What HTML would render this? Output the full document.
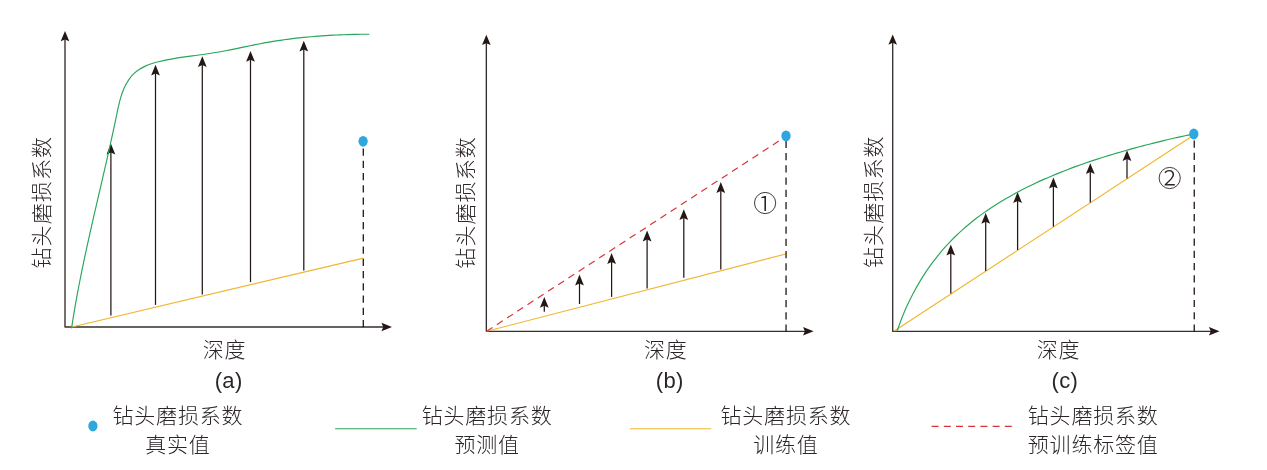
<!DOCTYPE html>
<html lang="zh-CN">
<head>
<meta charset="utf-8">
<title>钻头磨损系数</title>
<style>
html,body{margin:0;padding:0;background:#fff;}
body{width:1267px;height:470px;overflow:hidden;}
svg{display:block;}
.cjk{font-family:"Liberation Sans","Noto Sans CJK SC",sans-serif;font-weight:300;font-size:21px;letter-spacing:0.8px;fill:#2b2625;}
.lat{font-family:"Liberation Sans","Noto Sans CJK SC",sans-serif;fill:#2b2625;}
.circ{font-family:"Liberation Sans","Noto Sans CJK SC",sans-serif;font-weight:300;font-size:28.8px;fill:#2b2625;}
.vl{letter-spacing:1.1px;}
.cap{font-size:22px;letter-spacing:0.4px;}
</style>
</head>
<body>
<svg width="1267" height="470" viewBox="0 0 1267 470">
<rect x="0" y="0" width="1267" height="470" fill="#ffffff"/>
<g id="panel-a">
<path d="M65,38.9 L65,327 L384.1,327" fill="none" stroke="#352f2d" stroke-width="1.35" stroke-linejoin="round"/><path d="M65,31 L69.3,41.3 L65,39.4 L60.7,41.3 Z" fill="#231815"/><path d="M392,327 L381.4,322.7 L383.3,327 L381.4,331.3 Z" fill="#231815"/>
<line x1="70.8" y1="327.2" x2="363.4" y2="258.1" stroke="#f0b62e" stroke-width="1.15"/>
<line x1="110.9" y1="315.4" x2="110.9" y2="151.9" stroke="#231815" stroke-width="1.25"/><path d="M110.9,143.6 L115.3,154.4 L110.9,152.4 L106.5,154.4 Z" fill="#231815"/>
<line x1="155.5" y1="304.9" x2="155.5" y2="73.1" stroke="#231815" stroke-width="1.25"/><path d="M155.5,64.8 L159.9,75.6 L155.5,73.6 L151.1,75.6 Z" fill="#231815"/>
<line x1="202.3" y1="294.5" x2="202.3" y2="64.5" stroke="#231815" stroke-width="1.25"/><path d="M202.3,56.2 L206.7,67 L202.3,65 L197.9,67 Z" fill="#231815"/>
<line x1="250.5" y1="282.1" x2="250.5" y2="59.2" stroke="#231815" stroke-width="1.25"/><path d="M250.5,50.9 L254.9,61.7 L250.5,59.7 L246.1,61.7 Z" fill="#231815"/>
<line x1="303.8" y1="270.4" x2="303.8" y2="49.1" stroke="#231815" stroke-width="1.25"/><path d="M303.8,40.8 L308.2,51.6 L303.8,49.6 L299.4,51.6 Z" fill="#231815"/>
<path d="M71.53,328.43 C71.72,327.21 72.27,323.57 72.66,321.14 C73.04,318.71 73.43,316.29 73.84,313.87 C74.24,311.46 74.65,309.04 75.07,306.63 C75.49,304.22 75.92,301.81 76.35,299.4 C76.78,297 77.23,294.6 77.68,292.2 C78.12,289.8 78.58,287.4 79.04,285.01 C79.5,282.61 79.97,280.22 80.45,277.83 C80.92,275.44 81.41,273.06 81.89,270.67 C82.38,268.29 82.87,265.9 83.37,263.52 C83.87,261.14 84.37,258.76 84.87,256.39 C85.38,254.01 85.89,251.63 86.41,249.26 C86.92,246.88 87.44,244.51 87.97,242.14 C88.49,239.76 89.02,237.39 89.55,235.02 C90.08,232.65 90.61,230.28 91.15,227.91 C91.68,225.54 92.22,223.17 92.76,220.81 C93.3,218.44 93.85,216.07 94.39,213.7 C94.94,211.33 95.48,208.97 96.03,206.6 C96.58,204.23 97.13,201.86 97.68,199.49 C98.22,197.12 98.77,194.75 99.32,192.38 C99.88,190.01 100.43,187.64 100.98,185.27 C101.53,182.9 102.08,180.53 102.63,178.15 C103.17,175.78 103.72,173.4 104.27,171.03 C104.82,168.65 105.36,166.27 105.91,163.89 C106.45,161.51 107,159.13 107.54,156.75 C108.08,154.37 108.62,151.98 109.15,149.59 C109.69,147.21 110.22,144.82 110.75,142.42 C111.28,140.03 111.81,137.64 112.33,135.24 C112.85,132.84 113.37,130.44 113.89,128.04 C114.4,125.64 114.91,123.23 115.42,120.82 C115.93,118.41 116.42,116 116.92,113.59 C117.43,111.17 117.91,108.75 118.47,106.36 C119.02,103.96 119.58,101.57 120.25,99.21 C120.92,96.86 121.63,94.52 122.48,92.24 C123.33,89.96 124.27,87.68 125.37,85.53 C126.46,83.37 127.68,81.24 129.05,79.3 C130.43,77.36 131.94,75.52 133.61,73.89 C135.28,72.26 137.13,70.82 139.08,69.52 C141.03,68.23 143.14,67.12 145.31,66.12 C147.48,65.11 149.78,64.26 152.1,63.49 C154.43,62.72 156.85,62.07 159.26,61.47 C161.68,60.87 164.15,60.37 166.59,59.88 C169.03,59.4 171.48,58.98 173.91,58.57 C176.35,58.16 178.77,57.79 181.2,57.43 C183.62,57.08 186.03,56.75 188.44,56.42 C190.85,56.09 193.25,55.78 195.66,55.46 C198.06,55.14 200.45,54.83 202.85,54.5 C205.24,54.16 207.64,53.83 210.03,53.46 C212.42,53.1 214.81,52.71 217.2,52.3 C219.59,51.89 221.98,51.45 224.37,51 C226.76,50.55 229.15,50.07 231.55,49.59 C233.94,49.11 236.33,48.61 238.72,48.12 C241.11,47.62 243.51,47.11 245.9,46.62 C248.3,46.12 250.69,45.62 253.09,45.13 C255.49,44.65 257.89,44.17 260.29,43.71 C262.69,43.25 265.09,42.8 267.49,42.38 C269.9,41.96 272.31,41.55 274.71,41.17 C277.12,40.78 279.53,40.42 281.95,40.07 C284.36,39.72 286.77,39.39 289.19,39.08 C291.6,38.76 294.02,38.47 296.44,38.19 C298.86,37.91 301.28,37.65 303.7,37.4 C306.13,37.16 308.55,36.93 310.97,36.72 C313.4,36.5 315.83,36.3 318.25,36.12 C320.68,35.94 323.11,35.77 325.54,35.61 C327.97,35.46 330.41,35.32 332.84,35.19 C335.27,35.06 337.71,34.95 340.14,34.85 C342.58,34.75 345.01,34.66 347.45,34.59 C349.89,34.51 352.33,34.45 354.77,34.39 C357.21,34.34 359.65,34.3 362.09,34.27 C364.53,34.24 368.19,34.23 369.41,34.22" fill="none" stroke="#27a65a" stroke-width="1.15"/>
<line x1="363.3" y1="327.3" x2="363.3" y2="146" stroke="#231815" stroke-width="1.3" stroke-dasharray="7.2 5.06"/>
<ellipse cx="363.1" cy="141.3" rx="4.65" ry="5.4" fill="#2ea7e0"/>
</g>
<g id="panel-b">
<path d="M486.35,42.7 L486.35,331.3 L805.7,331.3" fill="none" stroke="#352f2d" stroke-width="1.35" stroke-linejoin="round"/><path d="M486.35,34.8 L490.65,45.1 L486.35,43.2 L482.05,45.1 Z" fill="#231815"/><path d="M813.6,331.3 L803,327 L804.9,331.3 L803,335.6 Z" fill="#231815"/>
<line x1="486.6" y1="331.3" x2="785.8" y2="254" stroke="#f0b62e" stroke-width="1.15"/>
<line x1="486.6" y1="331.3" x2="785.8" y2="136.5" stroke="#d8343b" stroke-width="1.2" stroke-dasharray="7 5.2"/>
<line x1="544.3" y1="311.7" x2="544.3" y2="305.3" stroke="#231815" stroke-width="1.25"/><path d="M544.3,297 L548.7,307.8 L544.3,305.8 L539.9,307.8 Z" fill="#231815"/>
<line x1="579.5" y1="304" x2="579.5" y2="282.9" stroke="#231815" stroke-width="1.25"/><path d="M579.5,274.6 L583.9,285.4 L579.5,283.4 L575.1,285.4 Z" fill="#231815"/>
<line x1="611.6" y1="296.9" x2="611.6" y2="261.4" stroke="#231815" stroke-width="1.25"/><path d="M611.6,253.1 L616,263.9 L611.6,261.9 L607.2,263.9 Z" fill="#231815"/>
<line x1="647.1" y1="288.4" x2="647.1" y2="238.9" stroke="#231815" stroke-width="1.25"/><path d="M647.1,230.6 L651.5,241.4 L647.1,239.4 L642.7,241.4 Z" fill="#231815"/>
<line x1="683.8" y1="277.8" x2="683.8" y2="217.5" stroke="#231815" stroke-width="1.25"/><path d="M683.8,209.2 L688.2,220 L683.8,218 L679.4,220 Z" fill="#231815"/>
<line x1="720.8" y1="269.6" x2="720.8" y2="190.4" stroke="#231815" stroke-width="1.25"/><path d="M720.8,182.1 L725.2,192.9 L720.8,190.9 L716.4,192.9 Z" fill="#231815"/>
<line x1="786.05" y1="331.8" x2="786.05" y2="141" stroke="#231815" stroke-width="1.3" stroke-dasharray="7.2 5.06"/>
<ellipse cx="786" cy="135.9" rx="4.65" ry="5.4" fill="#2ea7e0"/>
<circle cx="765.1" cy="203" r="10.6" fill="none" stroke="#2b2625" stroke-width="0.9"/>
<clipPath id="k1"><circle cx="765.1" cy="203" r="9.4"/></clipPath>
<text x="764.7" y="215.0" text-anchor="middle" class="circ" clip-path="url(#k1)">①</text>
</g>
<g id="panel-c">
<path d="M892.7,42.3 L892.7,331.3 L1211.6,331.3" fill="none" stroke="#352f2d" stroke-width="1.35" stroke-linejoin="round"/><path d="M892.7,34.4 L897,44.7 L892.7,42.8 L888.4,44.7 Z" fill="#231815"/><path d="M1219.5,331.3 L1208.9,327 L1210.8,331.3 L1208.9,335.6 Z" fill="#231815"/>
<line x1="894.3" y1="331" x2="1193.9" y2="135" stroke="#f0b62e" stroke-width="1.15"/>
<line x1="950.8" y1="293.6" x2="950.8" y2="252.9" stroke="#231815" stroke-width="1.25"/><path d="M950.8,244.6 L955.2,255.4 L950.8,253.4 L946.4,255.4 Z" fill="#231815"/>
<line x1="985.7" y1="270.9" x2="985.7" y2="221.3" stroke="#231815" stroke-width="1.25"/><path d="M985.7,213 L990.1,223.8 L985.7,221.8 L981.3,223.8 Z" fill="#231815"/>
<line x1="1017.6" y1="250" x2="1017.6" y2="200.4" stroke="#231815" stroke-width="1.25"/><path d="M1017.6,192.1 L1022,202.9 L1017.6,200.9 L1013.2,202.9 Z" fill="#231815"/>
<line x1="1053.4" y1="226.6" x2="1053.4" y2="185.9" stroke="#231815" stroke-width="1.25"/><path d="M1053.4,177.6 L1057.8,188.4 L1053.4,186.4 L1049,188.4 Z" fill="#231815"/>
<line x1="1090.3" y1="202.5" x2="1090.3" y2="171.6" stroke="#231815" stroke-width="1.25"/><path d="M1090.3,163.3 L1094.7,174.1 L1090.3,172.1 L1085.9,174.1 Z" fill="#231815"/>
<line x1="1127" y1="178.6" x2="1127" y2="158.6" stroke="#231815" stroke-width="1.25"/><path d="M1127,150.3 L1131.4,161.1 L1127,159.1 L1122.6,161.1 Z" fill="#231815"/>
<path d="M897.27,330.64 C897.76,329.27 899.16,325.15 900.18,322.43 C901.19,319.71 902.26,317 903.37,314.31 C904.48,311.63 905.63,308.96 906.84,306.31 C908.04,303.66 909.29,301.03 910.59,298.43 C911.89,295.83 913.23,293.24 914.62,290.69 C916,288.13 917.44,285.6 918.91,283.1 C920.39,280.6 921.91,278.12 923.48,275.68 C925.05,273.24 926.66,270.82 928.31,268.44 C929.97,266.06 931.67,263.71 933.41,261.4 C935.15,259.09 936.94,256.81 938.76,254.57 C940.59,252.33 942.46,250.12 944.37,247.96 C946.29,245.8 948.24,243.67 950.24,241.59 C952.23,239.51 954.27,237.47 956.34,235.47 C958.42,233.47 960.54,231.51 962.69,229.59 C964.84,227.67 967.03,225.79 969.26,223.96 C971.48,222.12 973.74,220.32 976.03,218.56 C978.32,216.8 980.64,215.08 983,213.39 C985.35,211.71 987.73,210.06 990.14,208.45 C992.55,206.84 994.98,205.26 997.44,203.72 C999.9,202.18 1002.39,200.67 1004.89,199.2 C1007.4,197.73 1009.93,196.29 1012.47,194.88 C1015.02,193.47 1017.58,192.09 1020.16,190.74 C1022.74,189.39 1025.34,188.08 1027.95,186.79 C1030.56,185.5 1033.19,184.24 1035.82,183.01 C1038.46,181.77 1041.1,180.57 1043.76,179.39 C1046.41,178.21 1049.08,177.05 1051.76,175.92 C1054.43,174.79 1057.12,173.69 1059.82,172.61 C1062.51,171.52 1065.22,170.47 1067.93,169.43 C1070.64,168.39 1073.36,167.38 1076.09,166.39 C1078.82,165.39 1081.56,164.42 1084.3,163.47 C1087.04,162.51 1089.79,161.58 1092.55,160.66 C1095.31,159.75 1098.07,158.85 1100.84,157.97 C1103.61,157.09 1106.39,156.23 1109.17,155.38 C1111.95,154.53 1114.73,153.7 1117.52,152.88 C1120.31,152.07 1123.11,151.26 1125.9,150.47 C1128.7,149.68 1131.5,148.91 1134.31,148.14 C1137.11,147.38 1139.92,146.63 1142.73,145.89 C1145.54,145.15 1148.36,144.41 1151.17,143.69 C1153.99,142.98 1156.81,142.27 1159.63,141.57 C1162.45,140.88 1165.27,140.2 1168.1,139.53 C1170.92,138.87 1173.75,138.22 1176.58,137.58 C1179.41,136.95 1182.25,136.33 1185.09,135.74 C1187.93,135.14 1192.19,134.3 1193.61,134.01" fill="none" stroke="#27a65a" stroke-width="1.15"/>
<line x1="1194.25" y1="331.6" x2="1194.25" y2="139" stroke="#231815" stroke-width="1.3" stroke-dasharray="7.2 5.06"/>
<ellipse cx="1193.8" cy="134" rx="4.65" ry="5.4" fill="#2ea7e0"/>
<circle cx="1169.7" cy="178" r="10.6" fill="none" stroke="#2b2625" stroke-width="0.9"/>
<clipPath id="k2"><circle cx="1169.7" cy="178" r="9.4"/></clipPath>
<text x="1169.5" y="189.0" text-anchor="middle" class="circ" clip-path="url(#k2)">②</text>
</g>
<g id="labels">
<text transform="translate(42,202.2) rotate(-90)" text-anchor="middle" class="cjk vl" y="7">钻头磨损系数</text>
<text transform="translate(465.8,202.4) rotate(-90)" text-anchor="middle" class="cjk vl" y="7">钻头磨损系数</text>
<text transform="translate(873.9,201.7) rotate(-90)" text-anchor="middle" class="cjk vl" y="7">钻头磨损系数</text>
<text x="224.6" y="356.8" text-anchor="middle" class="cjk">深度</text>
<text x="665.8" y="356.8" text-anchor="middle" class="cjk">深度</text>
<text x="1058.6" y="356.8" text-anchor="middle" class="cjk">深度</text>
<text x="228.7" y="388.3" text-anchor="middle" class="lat cap">(a)</text>
<text x="669.8" y="388.3" text-anchor="middle" class="lat cap">(b)</text>
<text x="1064.9" y="388.3" text-anchor="middle" class="lat cap">(c)</text>
</g>
<g id="legend">
<ellipse cx="92.9" cy="426" rx="4.65" ry="5.4" fill="#2ea7e0"/>
<line x1="335.2" y1="428.7" x2="416.7" y2="428.7" stroke="#27a65a" stroke-width="1.15"/>
<line x1="629.8" y1="428.7" x2="711.3" y2="428.7" stroke="#f0b62e" stroke-width="1.15"/>
<line x1="931.6" y1="426.3" x2="1012.6" y2="426.3" stroke="#d8343b" stroke-width="1.2" stroke-dasharray="7 5.2"/>
<text x="177.9" y="422.8" text-anchor="middle" class="cjk">钻头磨损系数</text>
<text x="177.9" y="451.6" text-anchor="middle" class="cjk">真实值</text>
<text x="487.1" y="422.8" text-anchor="middle" class="cjk">钻头磨损系数</text>
<text x="487.1" y="451.6" text-anchor="middle" class="cjk">预测值</text>
<text x="785.9" y="422.8" text-anchor="middle" class="cjk">钻头磨损系数</text>
<text x="785.9" y="451.6" text-anchor="middle" class="cjk">训练值</text>
<text x="1093.2" y="422.8" text-anchor="middle" class="cjk">钻头磨损系数</text>
<text x="1093.2" y="451.6" text-anchor="middle" class="cjk">预训练标签值</text>
</g>
</svg>
</body>
</html>
